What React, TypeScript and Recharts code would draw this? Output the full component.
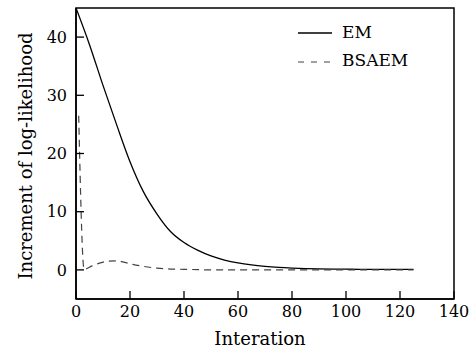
import React from "react";
import {
  LineChart,
  Line,
  XAxis,
  YAxis,
  Legend,
  ReferenceArea,
} from "recharts";

// iterations and increments
const emIter = [0, 5, 10, 15, 20, 25, 30, 35, 40, 45, 50, 55, 60, 65, 70, 75, 80, 85, 90, 95, 100, 105, 110, 115, 120, 125];
const emValues = [45, 38.7, 31.7, 25.0, 18.6, 13.4, 9.6, 6.6, 4.7, 3.4, 2.4, 1.7, 1.2, 0.85, 0.6, 0.42, 0.3, 0.22, 0.17, 0.14, 0.12, 0.1, 0.1, 0.1, 0.1, 0.1];

const bsaemIter = [1, 3, 6, 9, 12, 15, 18, 21, 25, 30, 35, 40, 45, 50, 60, 70, 80, 90, 100, 110, 125];
const bsaemValues = [26.5, 0.1, 0.7, 1.2, 1.5, 1.55, 1.3, 0.95, 0.6, 0.3, 0.15, 0.1, 0.05, 0, 0, 0, 0, 0, 0, 0, 0];

const xTicks = [0, 20, 40, 60, 80, 100, 120, 140];
const yTicks = [0, 10, 20, 30, 40];

const emData = emIter.map((x, i) => ({ x, y: emValues[i] }));
const bsaemData = bsaemIter.map((x, i) => ({ x, y: bsaemValues[i] }));

const FONT = "'DejaVu Serif', 'Liberation Serif', serif";
const tickStyle = { fontSize: 16, fill: "#000", fontFamily: FONT };

function LegendBox() {
  return (
    <svg width={180} height={80} style={{ fontFamily: FONT }}>
      <line x1={8} y1={33} x2={42} y2={33} stroke="#000" strokeWidth={1.3} />
      <text x={52} y={38} fontSize={17} fill="#000">EM</text>
      <line x1={8} y1={62} x2={42} y2={62} stroke="#444" strokeWidth={1.2} strokeDasharray="6 7" />
      <text x={52} y={66} fontSize={17} fill="#000">BSAEM</text>
    </svg>
  );
}

export default function App() {
  return (
    <div style={{ position: "absolute", left: 0, top: 0, background: "#fff" }}>
      <LineChart width={469} height={350} margin={{ top: 8, right: 15, bottom: 0, left: 0 }}>
        <XAxis
          type="number"
          dataKey="x"
          domain={[0, 140]}
          ticks={xTicks}
          allowDataOverflow
          height={51}
          tick={tickStyle}
          tickSize={-8}
          tickMargin={15}
          axisLine={{ stroke: "#000", strokeWidth: 1.5 }}
          tickLine={{ stroke: "#000", strokeWidth: 1.3 }}
          label={({ viewBox }: any) => (
            <text x={260} y={345} textAnchor="middle" fontSize={18} fontFamily={FONT} fill="#000">
              Interation
            </text>
          )}
        />
        <YAxis
          type="number"
          domain={[-5, 45]}
          ticks={yTicks}
          allowDataOverflow
          width={76}
          tick={tickStyle}
          tickSize={-8}
          tickMargin={17}
          axisLine={{ stroke: "#000", strokeWidth: 1.5 }}
          tickLine={{ stroke: "#000", strokeWidth: 1.3 }}
          label={({ viewBox }: any) => (
            <text
              x={25}
              y={156}
              transform="rotate(-90 25 156)"
              textAnchor="middle"
              dominantBaseline="central"
              fontSize={18}
              fontFamily={FONT}
              fill="#000"
            >
              Increment of log-likelihood
            </text>
          )}
        />
        <ReferenceArea x1={0} x2={140} y1={-5} y2={45} fill="none" stroke="#000" strokeWidth={1.5} />
        <Line
          data={emData}
          dataKey="y"
          name="EM"
          type="monotone"
          stroke="#000"
          strokeWidth={1.3}
          dot={false}
          isAnimationActive={false}
        />
        <Line
          data={bsaemData}
          dataKey="y"
          name="BSAEM"
          type="monotone"
          stroke="#444"
          strokeWidth={1.2}
          strokeDasharray="7 5"
          dot={false}
          isAnimationActive={false}
        />
        <Legend
          verticalAlign="middle"
          content={() => <LegendBox />}
          wrapperStyle={{ position: "absolute", left: 290, top: 0, width: 180, height: 80 }}
        />
      </LineChart>
    </div>
  );
}
